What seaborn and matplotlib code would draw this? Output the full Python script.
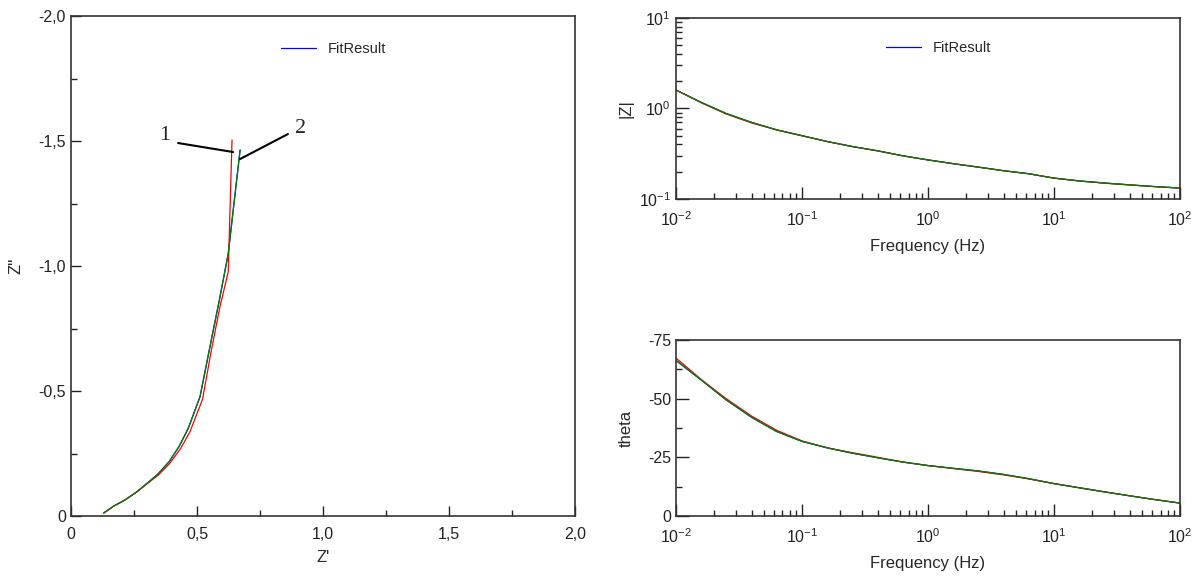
import matplotlib
matplotlib.use("Agg")
import matplotlib.pyplot as plt
import matplotlib.ticker as mticker
import numpy as np
import pandas as pd
import seaborn as sns

sns.set_theme(style="white")
plt.rcParams.update({
    "font.family": ["Liberation Sans", "DejaVu Sans"],
    "mathtext.fontset": "custom",
    "mathtext.rm": "Liberation Sans",
    "font.size": 11.5,
    "axes.edgecolor": "#333333",
    "axes.linewidth": 1.2,
    "xtick.direction": "in",
    "ytick.direction": "in",
    "xtick.color": "#222222",
    "ytick.color": "#222222",
    "xtick.labelsize": 11.5,
    "ytick.labelsize": 11.5,
})

# Nyquist: krivulja 1 (crveno) i krivulja 2 (zeleno)
z_re_1 = [0.130, 0.170, 0.214, 0.260, 0.307, 0.347, 0.393, 0.435, 0.472, 0.522, 0.554, 0.591, 0.624, 0.639]
z_im_1 = [-0.012, -0.040, -0.064, -0.095, -0.133, -0.164, -0.212, -0.270, -0.337, -0.467, -0.647, -0.837, -0.977, -1.504]
z_re_2 = [0.130, 0.170, 0.214, 0.260, 0.307, 0.345, 0.390, 0.430, 0.465, 0.512, 0.548, 0.588, 0.624, 0.671]
z_im_2 = [-0.012, -0.040, -0.064, -0.096, -0.135, -0.168, -0.218, -0.280, -0.350, -0.477, -0.660, -0.860, -1.050, -1.464]

# Bode
freq = [0.01, 0.016, 0.025, 0.04, 0.063, 0.1, 0.16, 0.25, 0.4, 0.63, 1, 1.6, 2.5, 4, 6.3, 10, 16, 25, 40, 63, 100]
mod_1 = [1.60, 1.15, 0.87, 0.69, 0.58, 0.50, 0.43, 0.38, 0.34, 0.30, 0.27, 0.245, 0.225, 0.205, 0.19, 0.17, 0.158, 0.150, 0.143, 0.137, 0.132]
mod_2 = [1.60, 1.16, 0.88, 0.70, 0.58, 0.50, 0.43, 0.38, 0.34, 0.30, 0.27, 0.245, 0.225, 0.205, 0.19, 0.17, 0.158, 0.150, 0.143, 0.137, 0.132]
theta_1 = [-67.3, -58.0, -50.0, -42.5, -36.5, -32.0, -29.0, -27.0, -25.0, -23.0, -21.5, -20.2, -19.0, -17.5, -15.8, -13.8, -12.0, -10.3, -8.6, -7.0, -5.5]
theta_2 = [-66.3, -57.8, -49.5, -42.0, -36.0, -31.8, -29.0, -26.8, -24.8, -23.0, -21.5, -20.3, -19.2, -17.7, -15.9, -13.8, -12.0, -10.3, -8.6, -7.0, -5.5]


def zarez(v, pos):
    if abs(v) < 1e-9:
        return "0"
    return f"{v:.1f}".replace(".", ",")


def krivulje(ax, x1, y1, x2, y2):
    sns.lineplot(x=x2, y=y2, ax=ax, sort=False, estimator=None, color="blue",
                 lw=0.9, label="FitResult")
    sns.lineplot(x=x1, y=y1, ax=ax, sort=False, estimator=None, color="red", lw=0.9)
    sns.lineplot(x=x2, y=y2, ax=ax, sort=False, estimator=None, color="green", lw=0.9)


def okvir(ax):
    for s in ax.spines.values():
        s.set_visible(True)
    ax.tick_params(which="major", length=7, width=1.0)
    ax.tick_params(which="minor", length=4, width=1.0)
    ax.tick_params(which="both", top=False, right=False, bottom=True, left=True)


fig = plt.figure(figsize=(11.99, 5.83), dpi=100)
ax_n = fig.add_axes([0.0592, 0.1149, 0.4204, 0.8576])
ax_z = fig.add_axes([0.5638, 0.6587, 0.4204, 0.3105])
ax_t = fig.add_axes([0.5638, 0.1149, 0.4204, 0.3019])

# Nyquist
krivulje(ax_n, z_re_1, z_im_1, z_re_2, z_im_2)
ax_n.set_xlim(0, 2.0)
ax_n.set_ylim(0, -2.0)
ax_n.xaxis.set_major_locator(mticker.MultipleLocator(0.5))
ax_n.xaxis.set_minor_locator(mticker.MultipleLocator(0.25))
ax_n.yaxis.set_major_locator(mticker.MultipleLocator(0.5))
ax_n.yaxis.set_minor_locator(mticker.MultipleLocator(0.25))
ax_n.xaxis.set_major_formatter(mticker.FuncFormatter(zarez))
ax_n.yaxis.set_major_formatter(mticker.FuncFormatter(zarez))
ax_n.set_xlabel("Z'", fontsize=12, labelpad=6)
ax_n.set_ylabel("Z''", fontsize=12, labelpad=11)
okvir(ax_n)
ax_n.tick_params(axis="x", pad=8)
ax_n.legend(loc="upper left", bbox_to_anchor=(0.39, 0.975), frameon=False,
            fontsize=10.5, handlelength=2.4, handletextpad=0.8)

ax_n.plot([0.425, 0.643], [-1.492, -1.456], color="black", lw=1.5)
ax_n.plot([0.861, 0.671], [-1.528, -1.428], color="black", lw=1.5)
ax_n.text(0.373, -1.524, "1", family=["Liberation Serif"], fontsize=16,
          ha="center", va="center")
ax_n.text(0.909, -1.552, "2", family=["Liberation Serif"], fontsize=16,
          ha="center", va="center")

# |Z|
krivulje(ax_z, freq, mod_1, freq, mod_2)
ax_z.set_xscale("log")
ax_z.set_yscale("log")
ax_z.set_xlim(1e-2, 1e2)
ax_z.set_ylim(1e-1, 1e1)
ax_z.set_xlabel("Frequency (Hz)", fontsize=12, labelpad=7)
ax_z.set_ylabel("|Z|", fontsize=12)
okvir(ax_z)
ax_z.tick_params(which="major", length=9)
ax_z.tick_params(axis="x", pad=8)
ax_z.legend(loc="upper left", bbox_to_anchor=(0.39, 0.945), frameon=False,
            fontsize=10.5, handlelength=2.4, handletextpad=0.8)

# theta
krivulje(ax_t, freq, theta_1, freq, theta_2)
ax_t.get_legend().remove()
ax_t.set_xscale("log")
ax_t.set_xlim(1e-2, 1e2)
ax_t.set_ylim(0, -75)
ax_t.yaxis.set_major_locator(mticker.MultipleLocator(25))
ax_t.yaxis.set_minor_locator(mticker.MultipleLocator(12.5))
ax_t.yaxis.set_major_formatter(mticker.FuncFormatter(lambda v, p: f"{v:.0f}"))
ax_t.set_xlabel("Frequency (Hz)", fontsize=12, labelpad=7)
ax_t.set_ylabel("theta", fontsize=12, labelpad=10)
okvir(ax_t)
ax_t.tick_params(which="major", length=9)
ax_t.tick_params(axis="x", pad=8)

fig.savefig("out.png", dpi=100)
